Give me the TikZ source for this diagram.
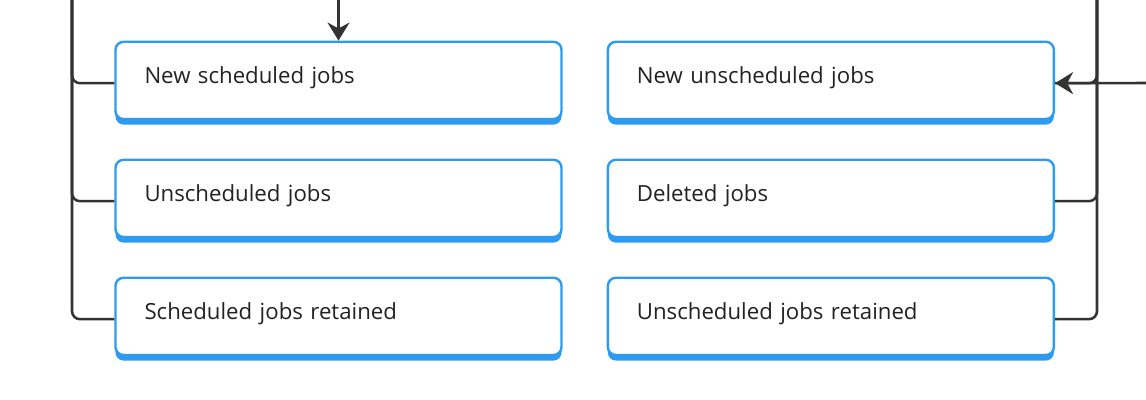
\documentclass[tikz,border=0pt]{standalone}
\usepackage{fontspec}
\setmainfont{Open Sans}
\usetikzlibrary{positioning,calc,arrows.meta,shadows}
\definecolor{boxblue}{RGB}{45,156,240}
\definecolor{linegray}{RGB}{51,51,51}
\definecolor{textdark}{RGB}{34,34,34}

\begin{document}
\begin{tikzpicture}[
		node distance=0.96cm and 1.1cm,
		% Hộp công việc: viền xanh, đáy dày
		jobbox/.style={
			rectangle, rounded corners=0.2cm, draw=boxblue, line width=1.7pt, fill=white,
			minimum width=11.15cm, minimum height=1.93cm,
			text width=9.7cm, inner xsep=0.725cm, align=left, text depth=0.25cm,
			font=\fontsize{15.8}{18}\selectfont, text=textdark,
			drop shadow={shadow xshift=0cm, shadow yshift=-0.14cm, fill=boxblue, opacity=1}
		},
		% Đường nối
		link/.style={draw=linegray, line width=1.8pt, rounded corners=0.2cm},
		tip/.style={-{Stealth[length=0.45cm,width=0.55cm]}}
		]
		\useasboundingbox (0,0) rectangle (28.65,-10);
		
		% Cột trái và cột phải
		\node[jobbox] (newsched) at (8.4625,-2.01) {New scheduled jobs};
		\node[jobbox, right=of newsched] (newunsched) {New unscheduled jobs};
		\node[jobbox, below=of newsched] (unsched) {Unscheduled jobs};
		\node[jobbox, below=of newunsched] (deleted) {Deleted jobs};
		\node[jobbox, below=of unsched] (schedkept) {Scheduled jobs retained};
		\node[jobbox, below=of deleted] (unschedkept) {Unscheduled jobs retained};
		
		% Đầu tự do của các đường
		\coordinate (lefttop) at (1.8,0);
		\coordinate (righttop) at (27.425,0);
		\coordinate (rightin) at (28.65,-2.075);
		
		% Nhánh trái
		\draw[link] (lefttop) |- ([yshift=-0.07cm]newsched.west);
		\draw[link] ([yshift=-0.07cm]unsched.west) -| (lefttop);
		\draw[link] ([yshift=-0.07cm]schedkept.west) -| (lefttop);
		\draw[link,tip] (newsched.north |- lefttop) -- (newsched.north);
		
		% Nhánh phải
		\draw[link] (righttop) |- ([yshift=-0.07cm]newunsched.east);
		\draw[link] ([yshift=-0.07cm]deleted.east) -| (righttop);
		\draw[link] ([yshift=-0.07cm]unschedkept.east) -| (righttop);
		\draw[link,tip] (rightin) -- ([yshift=-0.07cm]newunsched.east);
		
	\end{tikzpicture}
\end{document}
